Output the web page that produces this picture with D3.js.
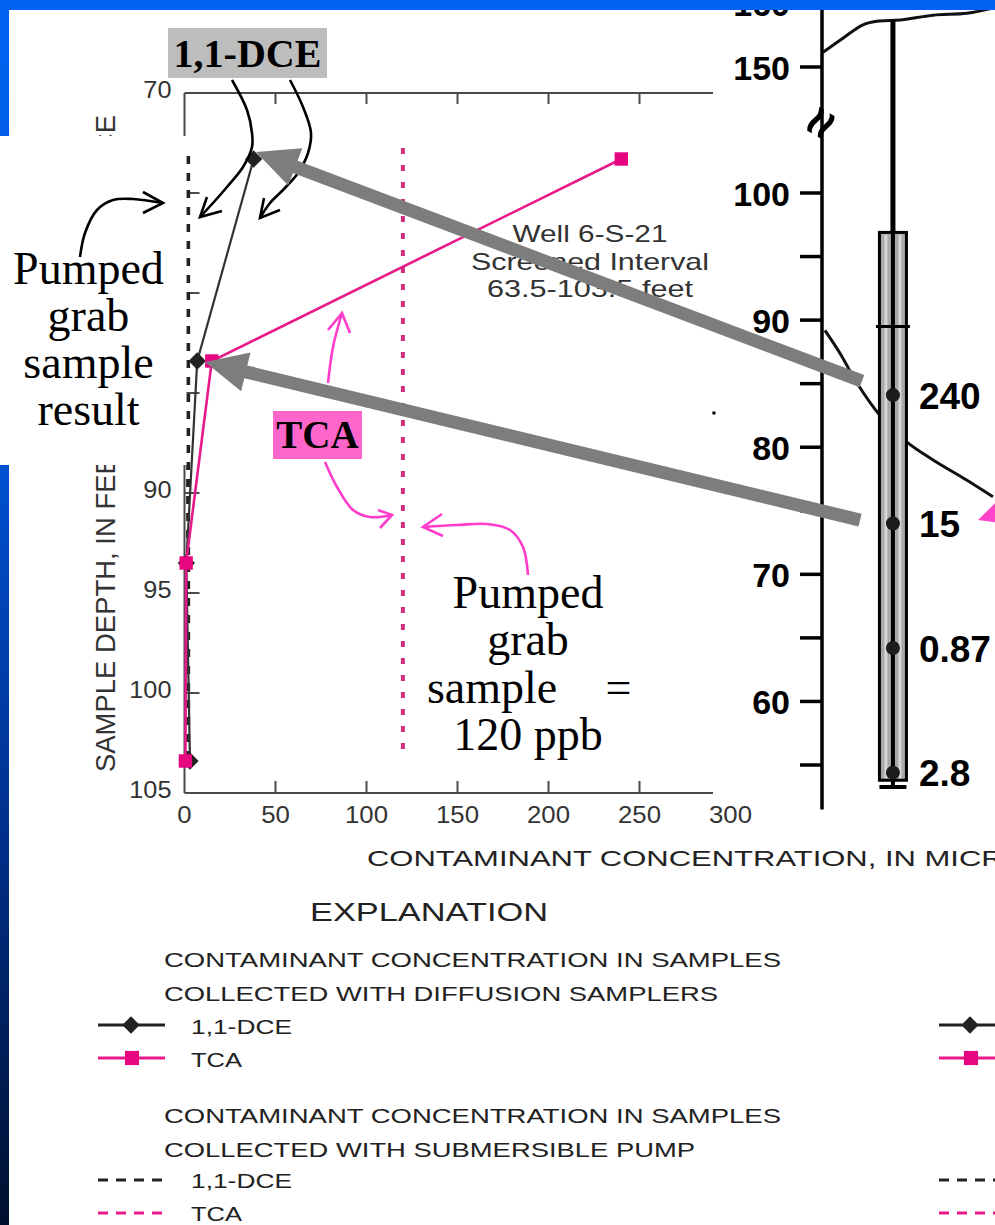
<!DOCTYPE html>
<html><head><meta charset="utf-8">
<script src="https://cdn.jsdelivr.net/npm/d3@7"></script>
<style>html,body{margin:0;padding:0;background:#fff;overflow:hidden}svg{display:block}</style>
</head><body><svg id="c" width="995" height="1225"></svg>
<script>
// ---------------- DATA ----------------
const depths = [73.3, 83.4, 93.5, 103.4];              // sample depth, feet
const dceDiffusion = [38, 7, 1, 3];                    // 1,1-DCE, ug/L
const tcaDiffusion = [240, 15, 0.9, 0.5];              // TCA, ug/L
const pumpedDCE = 2;
const pumpedTCA = 120;
const pumpedDepthRange = [72.75, 103.35];
const xTicks = [0, 50, 100, 150, 200, 250, 300];
const yTicks = [70, 75, 80, 85, 90, 95, 100, 105];
const yTickLabels = [70, 90, 95, 100, 105];           // 75-85 labels hidden under the callout box

// right panel (well cross-section, elevation in feet)
const wellTicksMajor = [160, 150, 100, 90, 80, 70, 60];
const wellTicksMinor = [95, 85, 75, 65, 55];
const samplerElev = [84.1, 74.0, 64.2, 54.4];
const samplerLabels = ["240", "15", "0.87", "2.8"];
const screenElev = [53.8, 96.9];
const landSurface = [[0.6,152.3],[12.1,154.5],[23.7,156.6],[33.5,157.2],[45.1,157.35],[64.2,158.1],[83.8,158.4],[98.8,159.2]];
const waterLevel = [[1.7,89.2],[10.4,87.4],[20.2,85.05],[33.5,82.5],[49.1,80.4],[64.2,79.0],[83.8,77.4],[98.8,76.1]];
const wellDist = 41;
const wellTopElev = 157.35;

// annotations (chart data units: concentration, depth)
const dceCurveLeft = [[26.1,69.35],[34.34,70.85],[37.09,72.0],[37.09,72.7],[32.14,73.7],[23.35,74.7],[15.66,75.5],[8.52,76.2]];
const dceArmsLeft = [[12.36,75.2],[20.6,75.9]];
const dceCurveRight = [[57.97,69.35],[65.11,70.7],[69.51,72.0],[67.86,73.0],[62.36,74.0],[54.12,74.85],[46.98,75.5],[41.48,76.25]];
const dceArmsRight = [[43.68,75.25],[52.47,75.85]];
const pumpCurve = [[-57.42,78.2],[-54.67,77.0],[-48.08,75.85],[-39.29,75.35],[-28.3,75.3],[-11.81,75.5]];
const pumpArms = [[-22.8,74.95],[-22.8,76.0]];
const tcaCurveUp = [[78.85,84.5],[81.59,82.7],[86.54,81.0]];
const tcaArmsUp = [[78.85,81.85],[90.93,82.0]];
const tcaCurveDown = [[77.2,88.45],[83.79,89.7],[92.58,90.85],[101.92,91.2],[114.01,91.1]];
const tcaArmsDown = [[106.32,90.85],[107.42,91.75]];
const ppbCurve = [[188.74,94.1],[185.99,92.7],[178.85,91.85],[166.21,91.55],[149.73,91.6],[131.04,91.7]];
const ppbArms = [[141.48,91.05],[142.03,92.15]];
const pumpedResultLines = ["Pumped", "grab", "sample", "result"];
const pumpedResultDepths = [79.55, 81.9, 84.25, 86.6];
const wellLabelLines = ["Well 6-S-21", "Screened Interval", "63.5-103.5 feet"];
const wellLabelWidths = [155, 238, 206];
const wellLabelDepths = [77.45, 78.85, 80.2];
const grayArrows = [
  {tail:[23.1,85.2], tip:[39.3,72.95]},
  {tail:[22.0,74.27], tip:[11.26,83.45]}
];
const pinkHead = [[90.2,74.27],[100,75.6],[100,74.1]];

// legend
const legendHead1 = ["CONTAMINANT CONCENTRATION IN SAMPLES", "COLLECTED WITH DIFFUSION SAMPLERS"];
const legendHead2 = ["CONTAMINANT CONCENTRATION IN SAMPLES", "COLLECTED WITH SUBMERSIBLE PUMP"];
const legendSeries = ["1,1-DCE", "TCA"];

// ---------------- SETUP ----------------
const SANS = "'Liberation Sans', Arial, Helvetica, sans-serif";
const SERIF = "'Liberation Serif', 'Times New Roman', serif";
const PINK = "#e8198b", PINKDOT = "#cf2f7c", ARROWPINK = "#ff3ccc";
const svg = d3.select('#c');
const defs = svg.append('defs');
const grad = defs.append('linearGradient').attr('id','band').attr('x1',0).attr('y1',0).attr('x2',0).attr('y2',1);
[[0,'#0064f2'],[0.38,'#0050d0'],[0.68,'#00308c'],[1,'#00102e']].forEach(s=>grad.append('stop').attr('offset',s[0]).attr('stop-color',s[1]));

svg.append('rect').attr('width',995).attr('height',1225).attr('fill','#fff');
svg.append('rect').attr('x',0).attr('y',0).attr('width',9).attr('height',1225).attr('fill','url(#band)');

const x = d3.scaleLinear().domain([0,300]).range([184.5,730.5]);
const y = d3.scaleLinear().domain([70,105]).range([93,793]);
const rX = d3.scaleLinear().domain([0,100]).range([822,995]);
const rY = d3.scaleLinear().domain([55,100,150,160]).range([765,193,67,3]);
const xEnd = 713;

function stretch(sel, f){ sel.each(function(){ const L=this.getComputedTextLength(); d3.select(this).attr('textLength',L*f).attr('lengthAdjust','spacingAndGlyphs'); }); }
function fit(sel, w){ sel.attr('textLength',w).attr('lengthAdjust','spacingAndGlyphs'); }

// ---------------- LEFT CHART ----------------
const g = svg.append('g');
const AX = '#4a4a4a';
g.append('line').attr('x1',x(0)).attr('x2',xEnd).attr('y1',y(70)).attr('y2',y(70)).attr('stroke',AX).attr('stroke-width',2);
g.append('line').attr('x1',x(0)).attr('x2',xEnd).attr('y1',y(105)).attr('y2',y(105)).attr('stroke',AX).attr('stroke-width',2);
g.append('line').attr('x1',x(0)).attr('x2',x(0)).attr('y1',y(70)).attr('y2',y(105)).attr('stroke',AX).attr('stroke-width',2);
const innerX = xTicks.filter(t=>t>0 && x(t)<xEnd);
g.selectAll('.tt').data(innerX).enter().append('line').attr('x1',d=>x(d)).attr('x2',d=>x(d)).attr('y1',y(70)).attr('y2',y(70)+11).attr('stroke',AX).attr('stroke-width',2);
g.selectAll('.bt').data(innerX).enter().append('line').attr('x1',d=>x(d)).attr('x2',d=>x(d)).attr('y1',y(105)).attr('y2',y(105)-12).attr('stroke',AX).attr('stroke-width',2);
g.selectAll('.lt').data(yTicks.filter(t=>t>70&&t<105)).enter().append('line').attr('x1',x(0)).attr('x2',x(0)+15).attr('y1',d=>y(d)).attr('y2',d=>y(d)).attr('stroke',AX).attr('stroke-width',2);
const xl = g.selectAll('.xl').data(xTicks).enter().append('text').attr('x',d=>x(d)).attr('y',y(105)+22)
  .attr('text-anchor','middle').attr('dominant-baseline','central').attr('font-family',SANS).attr('font-size',23).attr('fill','#333').text(d=>d);
stretch(xl,1.12);
const yl = g.selectAll('.yl').data(yTickLabels).enter().append('text').attr('x',x(0)-13).attr('y',d=>y(d)-3)
  .attr('text-anchor','end').attr('dominant-baseline','central').attr('font-family',SANS).attr('font-size',23).attr('fill','#333').text(d=>d);
stretch(yl,1.1);
g.append('text').attr('transform',`translate(115,772) rotate(-90)`).attr('font-family',SANS).attr('font-size',27).attr('fill','#333')
  .text('SAMPLE DEPTH, IN FEET BELOW LAND SURFACE').call(fit,657);

// pumped sample dotted lines
g.append('line').attr('x1',x(pumpedTCA)).attr('x2',x(pumpedTCA)).attr('y1',y(pumpedDepthRange[0])).attr('y2',y(pumpedDepthRange[1]))
  .attr('stroke',PINKDOT).attr('stroke-width',4).attr('stroke-dasharray','6,11');
g.append('line').attr('x1',x(pumpedDCE)).attr('x2',x(pumpedDCE)).attr('y1',y(pumpedDepthRange[0])+8).attr('y2',y(pumpedDepthRange[1]))
  .attr('stroke','#222').attr('stroke-width',4).attr('stroke-dasharray','8,9');

// diffusion series
const dcePts = depths.map((d,i)=>[dceDiffusion[i],d]);
const tcaPts = depths.map((d,i)=>[tcaDiffusion[i],d]);
const ln = d3.line().x(d=>x(d[0])).y(d=>y(d[1]));
g.append('path').attr('d',ln(dcePts)).attr('fill','none').attr('stroke','#333').attr('stroke-width',2.2);
g.selectAll('.dm').data(dcePts).enter().append('path').attr('d',d3.symbol().type(d3.symbolSquare).size(150)())
  .attr('transform',d=>`translate(${x(d[0])},${y(d[1])}) rotate(45)`).attr('fill','#222');
g.append('path').attr('d',ln(tcaPts)).attr('fill','none').attr('stroke',PINK).attr('stroke-width',2.6);
g.selectAll('.sq').data(tcaPts).enter().append('path').attr('d',d3.symbol().type(d3.symbolSquare).size(180)())
  .attr('transform',d=>`translate(${x(d[0])},${y(d[1])})`).attr('fill','#e6067f');

// well label
g.selectAll('.wl').data(wellLabelLines).enter().append('text').attr('x',x(222.8)).attr('y',(d,i)=>y(wellLabelDepths[i]))
  .attr('text-anchor','middle').attr('font-family',SANS).attr('font-size',24).attr('fill','#333').text(d=>d)
  .each(function(d,i){ d3.select(this).attr('textLength',wellLabelWidths[i]).attr('lengthAdjust','spacingAndGlyphs'); });
g.append('rect').attr('x',x(290.9)-1.5).attr('y',y(86.0)-1.5).attr('width',3).attr('height',3).attr('fill','#000');

// ---------------- RIGHT PANEL ----------------
const rg = svg.append('g');
const rl = d3.line().x(d=>rX(d[0])).y(d=>rY(d[1])).curve(d3.curveCatmullRom);
rg.append('path').attr('d',rl(landSurface)).attr('fill','none').attr('stroke','#111').attr('stroke-width',3);
rg.append('path').attr('d',rl(waterLevel)).attr('fill','none').attr('stroke','#111').attr('stroke-width',3);
rg.append('line').attr('x1',rX(0)).attr('x2',rX(0)).attr('y1',rY(161)).attr('y2',rY(51.5)).attr('stroke','#000').attr('stroke-width',3.5);
rg.selectAll('.rt').data(wellTicksMajor.concat(wellTicksMinor)).enter().append('line')
  .attr('x1',rX(0)-22).attr('x2',rX(0)).attr('y1',d=>rY(d)).attr('y2',d=>rY(d)).attr('stroke','#000').attr('stroke-width',3.5);
rg.selectAll('.rtl').data(wellTicksMajor).enter().append('text').attr('x',rX(0)-32).attr('y',d=>rY(d)+1)
  .attr('text-anchor','end').attr('dominant-baseline','central').attr('font-family',SANS).attr('font-weight','bold').attr('font-size',34).attr('fill','#000').text(d=>d);
rg.append('text').attr('transform',`translate(${rX(0)-2},${rY(127.8)}) rotate(-60)`).attr('text-anchor','middle').attr('dominant-baseline','central')
  .attr('font-family',SANS).attr('font-weight','bold').attr('font-size',52).attr('fill','#000').text('≈');
const wx = rX(wellDist);
rg.append('line').attr('x1',wx).attr('x2',wx).attr('y1',rY(wellTopElev)).attr('y2',rY(screenElev[1])).attr('stroke','#000').attr('stroke-width',5);
rg.append('rect').attr('x',wx-13.5).attr('width',27).attr('y',rY(screenElev[1])).attr('height',rY(screenElev[0])-rY(screenElev[1]))
  .attr('fill','#a9a9a9').attr('stroke','#000').attr('stroke-width',3);
[-7,7].forEach(o=>rg.append('line').attr('x1',wx+o).attr('x2',wx+o).attr('y1',rY(screenElev[1])+2).attr('y2',rY(screenElev[0])-2).attr('stroke','#d6d6d6').attr('stroke-width',3));
rg.append('line').attr('x1',wx).attr('x2',wx).attr('y1',rY(screenElev[1])).attr('y2',rY(53.27)).attr('stroke','#000').attr('stroke-width',4);
rg.append('line').attr('x1',wx-13.5).attr('x2',wx+13.5).attr('y1',rY(53.27)).attr('y2',rY(53.27)).attr('stroke','#000').attr('stroke-width',4);
rg.append('line').attr('x1',wx-17).attr('x2',wx+17).attr('y1',rY(89.5)).attr('y2',rY(89.5)).attr('stroke','#000').attr('stroke-width',3);
rg.selectAll('.sd').data(samplerElev).enter().append('circle').attr('cx',wx).attr('cy',d=>rY(d)).attr('r',7).attr('fill','#1c1c1c');
rg.selectAll('.sl').data(samplerElev).enter().append('text').attr('x',wx+26).attr('y',d=>rY(d)+1)
  .attr('dominant-baseline','central').attr('font-family',SANS).attr('font-weight','bold').attr('font-size',37).attr('fill','#000')
  .text((d,i)=>samplerLabels[i]);
rg.append('path').attr('d','M'+pinkHead.map(p=>[rX(p[0]),rY(p[1])].join(',')).join('L')+'Z').attr('fill','#ff44cc');

// ---------------- ANNOTATIONS ----------------
const an = svg.append('g');
an.append('rect').attr('x',x(-101.37)).attr('y',y(72.15)).attr('width',x(1.1)-x(-101.37)).attr('height',y(88.6)-y(72.15)).attr('fill','#fff');
an.selectAll('.pr').data(pumpedResultLines).enter().append('text').attr('x',x(-52.75)).attr('y',(d,i)=>y(pumpedResultDepths[i]))
  .attr('text-anchor','middle').attr('font-family',SERIF).attr('font-size',46).attr('fill','#000').text(d=>d);
an.append('rect').attr('x',x(-9.07)).attr('y',y(66.75)).attr('width',x(78.3)-x(-9.07)).attr('height',y(69.25)-y(66.75)).attr('fill','#bdbdbd');
an.append('text').attr('x',x(34.6)).attr('y',y(68.7)).attr('text-anchor','middle').attr('font-family',SERIF).attr('font-weight','bold').attr('font-size',40).attr('fill','#000').text('1,1-DCE');
an.append('rect').attr('x',x(48.63)).attr('y',y(85.9)).attr('width',x(97.53)-x(48.63)).attr('height',y(88.3)-y(85.9)).attr('fill','#ff66cc');
an.append('text').attr('x',x(73.08)).attr('y',y(87.75)).attr('text-anchor','middle').attr('font-family',SERIF).attr('font-weight','bold').attr('font-size',39).attr('fill','#000').text('TCA');
const ppbY = [95.75, 98.1, 100.5, 102.85];
an.append('text').attr('x',x(188.74)).attr('y',y(ppbY[0])).attr('text-anchor','middle').attr('font-family',SERIF).attr('font-size',46).text('Pumped');
an.append('text').attr('x',x(188.74)).attr('y',y(ppbY[1])).attr('text-anchor','middle').attr('font-family',SERIF).attr('font-size',46).text('grab');
an.append('text').attr('x',x(169.0)).attr('y',y(ppbY[2])).attr('text-anchor','middle').attr('font-family',SERIF).attr('font-size',46).text('sample');
an.append('text').attr('x',x(238.5)).attr('y',y(ppbY[2])).attr('text-anchor','middle').attr('font-family',SERIF).attr('font-size',46).text('=');
an.append('text').attr('x',x(188.74)).attr('y',y(ppbY[3])).attr('text-anchor','middle').attr('font-family',SERIF).attr('font-size',46).text('120 ppb');

const cl = d3.line().x(d=>x(d[0])).y(d=>y(d[1])).curve(d3.curveCatmullRom);
function callout(pts, arms, color){
  an.append('path').attr('d',cl(pts)).attr('fill','none').attr('stroke',color).attr('stroke-width',2.6);
  const tip = pts[pts.length-1];
  an.append('path').attr('d',d3.line().x(d=>x(d[0])).y(d=>y(d[1]))([arms[0],tip,arms[1]])).attr('fill','none').attr('stroke',color).attr('stroke-width',2.6).attr('stroke-linejoin','miter');
}
callout(dceCurveLeft, dceArmsLeft, '#000');
callout(dceCurveRight, dceArmsRight, '#000');
callout(pumpCurve, pumpArms, '#000');
callout(tcaCurveUp, tcaArmsUp, ARROWPINK);
callout(tcaCurveDown, tcaArmsDown, ARROWPINK);
callout(ppbCurve, ppbArms, ARROWPINK);

function blockArrow(x1,y1,x2,y2,shaft,headLen,headHalf){
  const dx=x2-x1, dy=y2-y1, L=Math.hypot(dx,dy), ux=dx/L, uy=dy/L, nx=-uy, ny=ux;
  const bx=x2-ux*headLen, by=y2-uy*headLen, s=shaft/2;
  const p=[[x1+nx*s,y1+ny*s],[bx+nx*s,by+ny*s],[bx+nx*headHalf,by+ny*headHalf],[x2,y2],[bx-nx*headHalf,by-ny*headHalf],[bx-nx*s,by-ny*s],[x1-nx*s,y1-ny*s]];
  an.append('path').attr('d','M'+p.map(q=>q.join(',')).join('L')+'Z').attr('fill','#7d7d7d');
}
grayArrows.forEach(a=>blockArrow(rX(a.tail[0]),rY(a.tail[1]),x(a.tip[0]),y(a.tip[1]),13,42,20));

// ---------------- AXIS TITLE + LEGEND ----------------
const lg = svg.append('g').attr('font-family',SANS).attr('fill','#222');
lg.append('text').attr('x',367).attr('y',866).attr('font-size',22).text('CONTAMINANT CONCENTRATION, IN MICROGRAMS PER LITER').call(fit,943);
lg.append('text').attr('x',310).attr('y',921).attr('font-size',25).text('EXPLANATION').call(fit,238);
const headW1=[617,554], headW2=[617,531];
legendHead1.forEach((t,i)=>lg.append('text').attr('x',164).attr('y',967+i*33.5).attr('font-size',21).text(t).call(fit,headW1[i]));
legendHead2.forEach((t,i)=>lg.append('text').attr('x',164).attr('y',1123+i*34).attr('font-size',21).text(t).call(fit,headW2[i]));
const serW=[101,51];
const rowsY=[1025,1058,1180,1213];
legendSeries.forEach((t,i)=>{
  lg.append('text').attr('x',191).attr('y',rowsY[i]+9).attr('font-size',21).text(t).call(fit,serW[i]);
  lg.append('text').attr('x',191).attr('y',rowsY[i+2]+8).attr('font-size',21).text(t).call(fit,serW[i]);
});
[98, 939].forEach(x0=>{
  const x1 = x0===98?165:1000;
  const mx = x0===98?131:970;
  lg.append('line').attr('x1',x0).attr('x2',x1).attr('y1',rowsY[0]).attr('y2',rowsY[0]).attr('stroke','#222').attr('stroke-width',3);
  lg.append('path').attr('d',d3.symbol().type(d3.symbolSquare).size(150)()).attr('transform',`translate(${mx},${rowsY[0]}) rotate(45)`).attr('fill','#222');
  lg.append('line').attr('x1',x0).attr('x2',x1).attr('y1',rowsY[1]).attr('y2',rowsY[1]).attr('stroke',PINK).attr('stroke-width',3);
  lg.append('path').attr('d',d3.symbol().type(d3.symbolSquare).size(200)()).attr('transform',`translate(${mx+1},${rowsY[1]})`).attr('fill','#e6067f');
  lg.append('line').attr('x1',x0).attr('x2',x1).attr('y1',rowsY[2]).attr('y2',rowsY[2]).attr('stroke','#222').attr('stroke-width',3).attr('stroke-dasharray','10,8');
  lg.append('line').attr('x1',x0).attr('x2',x1).attr('y1',rowsY[3]).attr('y2',rowsY[3]).attr('stroke',PINK).attr('stroke-width',3).attr('stroke-dasharray','10,8');
});

svg.append('rect').attr('x',0).attr('y',0).attr('width',995).attr('height',10).attr('fill','#0062ee');
</script></body></html>
